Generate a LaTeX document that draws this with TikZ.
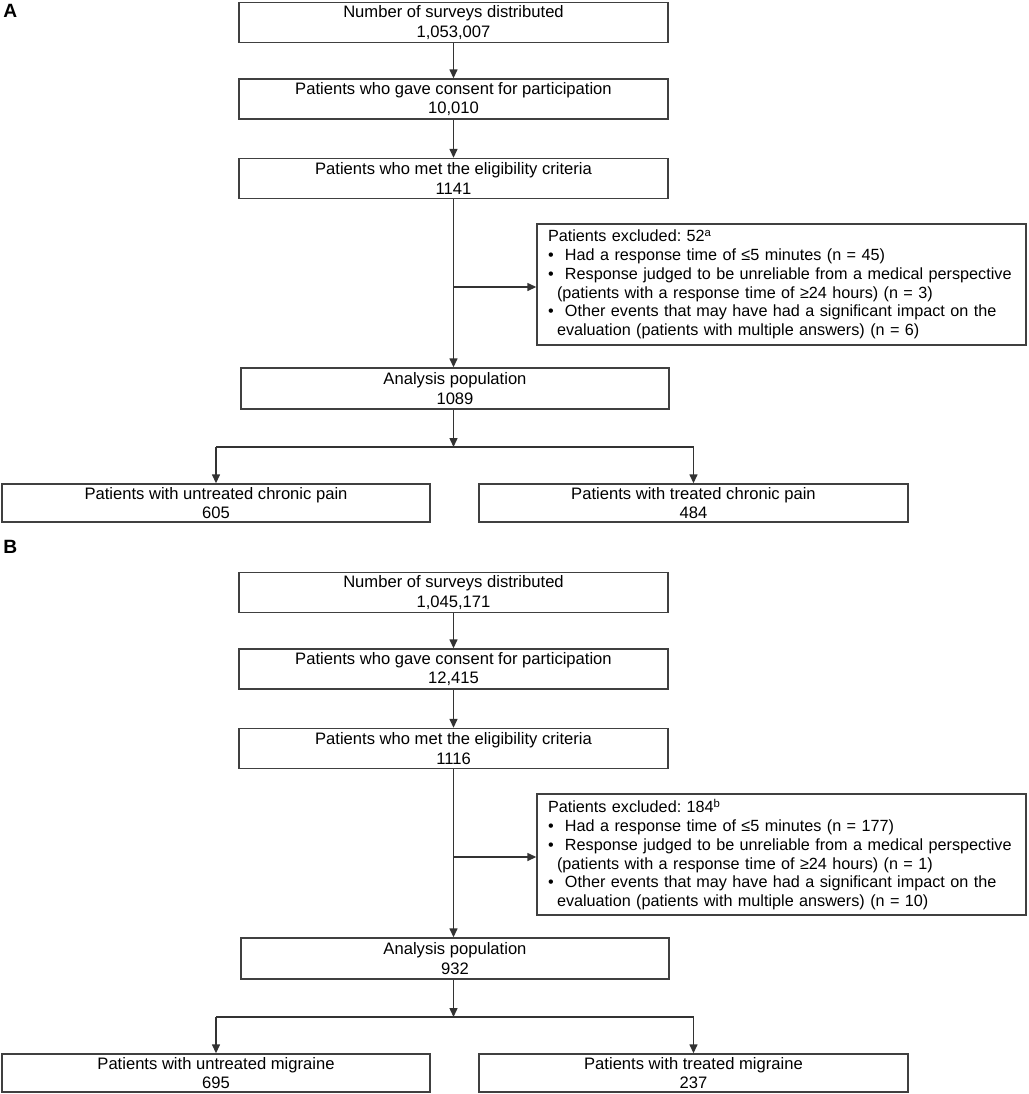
\documentclass[tikz,border=0pt]{standalone}
\usepackage{fontspec}
\setmainfont{Liberation Sans}
\usetikzlibrary{arrows.meta}
\tikzstyle{stepbox}=[
        draw=black!75,
        line width=0.7pt,
        minimum width=214.5pt,
        minimum height=20pt,
        inner sep=0pt,
        align=center,
        font=\fontsize{8.3}{9.8}\selectfont
]
\tikzstyle{exclbox}=[
        draw=black!75,
        line width=0.7pt,
        minimum width=244.5pt,
        minimum height=60.5pt,
        inner xsep=5.5pt,
        inner ysep=0pt,
        text width=233.5pt,
        align=left,
        font=\fontsize{8.1}{9.4}\selectfont\frenchspacing
]
\tikzstyle{flow}=[
        draw=black!80,
        line width=0.7pt
]
\tikzstyle{flowarrow}=[
        flow,
        -{Triangle[length=4.5pt,width=4pt]}
]
\tikzstyle{panel}=[
        anchor=base west,
        inner sep=0pt,
        font=\fontsize{9.6}{11}\selectfont\bfseries
]
\newcommand{\bitem}{\makebox[8.5pt][l]{\textbullet}}
\newcommand{\bcont}{\hspace*{4.5pt}}
\begin{document}
\begin{tikzpicture}[x=0.5pt,y=-0.5pt]
                        \useasboundingbox (0,0) rectangle (1029,1094);

                        % panel A
                        \node[panel] (la) at (3,17.5) {A};
                        \node[stepbox] (a1) at (453.5,22.5) {Number of surveys distributed\\1,053,007};
                        \node[stepbox] (a2) at (453.5,99) {Patients who gave consent for participation\\10,010};
                        \node[stepbox] (a3) at (453.5,178.5) {Patients who met the eligibility criteria\\1141};
                        \node[exclbox] (ax) at (781.5,284.5) {Patients excluded: 52\textsuperscript{a}\\
                            \bitem Had a response time of ≤5 minutes (n = 45)\\
                            \bitem Response judged to be unreliable from a medical perspective\\
                            \bcont(patients with a response time of ≥24 hours) (n = 3)\\
                            \bitem Other events that may have had a significant impact on the\\
                            \bcont evaluation (patients with multiple answers) (n = 6)};
                        \node[stepbox,minimum width=214pt,minimum height=20.5pt] (a4) at (455,388.5) {Analysis population\\1089};
                        \node[stepbox,minimum width=214pt,minimum height=19pt] (a5) at (216,503) {Patients with untreated chronic pain\\605};
                        \node[stepbox,minimum width=214.5pt,minimum height=19pt] (a6) at (693.5,503) {Patients with treated chronic pain\\484};

                        \coordinate (aj) at (453.5,287);
                        \coordinate (as) at (453.5,447);

                        \draw[flowarrow] (a1.south) -- (a2.north);
                        \draw[flowarrow] (a2.south) -- (a3.north);
                        \draw[flowarrow] (a3.south) -- (a3.south |- a4.north);
                        \draw[flowarrow] (aj) -- (aj -| ax.west);
                        \draw[flowarrow] (a3.south |- a4.south) -- (as);
                        \draw[flow] (as -| a5.north) -- (as -| a6.north);
                        \draw[flowarrow] (as -| a5.north) -- (a5.north);
                        \draw[flowarrow] (as -| a6.north) -- (a6.north);

                        % panel B
                        \node[panel] (lb) at (3,553.5) {B};
                        \node[stepbox] (b1) at (453.5,592.5) {Number of surveys distributed\\1,045,171};
                        \node[stepbox] (b2) at (453.5,669) {Patients who gave consent for participation\\12,415};
                        \node[stepbox] (b3) at (453.5,748.5) {Patients who met the eligibility criteria\\1116};
                        \node[exclbox] (bx) at (781.5,854.5) {Patients excluded: 184\textsuperscript{b}\\
                            \bitem Had a response time of ≤5 minutes (n = 177)\\
                            \bitem Response judged to be unreliable from a medical perspective\\
                            \bcont(patients with a response time of ≥24 hours) (n = 1)\\
                            \bitem Other events that may have had a significant impact on the\\
                            \bcont evaluation (patients with multiple answers) (n = 10)};
                        \node[stepbox,minimum width=214pt,minimum height=20.5pt] (b4) at (455,958.5) {Analysis population\\932};
                        \node[stepbox,minimum width=214pt,minimum height=19pt] (b5) at (216,1073) {Patients with untreated migraine\\695};
                        \node[stepbox,minimum width=214.5pt,minimum height=19pt] (b6) at (693.5,1073) {Patients with treated migraine\\237};

                        \coordinate (bj) at (453.5,857);
                        \coordinate (bs) at (453.5,1017);

                        \draw[flowarrow] (b1.south) -- (b2.north);
                        \draw[flowarrow] (b2.south) -- (b3.north);
                        \draw[flowarrow] (b3.south) -- (b3.south |- b4.north);
                        \draw[flowarrow] (bj) -- (bj -| bx.west);
                        \draw[flowarrow] (b3.south |- b4.south) -- (bs);
                        \draw[flow] (bs -| b5.north) -- (bs -| b6.north);
                        \draw[flowarrow] (bs -| b5.north) -- (b5.north);
                        \draw[flowarrow] (bs -| b6.north) -- (b6.north);
                    \end{tikzpicture}
\end{document}
